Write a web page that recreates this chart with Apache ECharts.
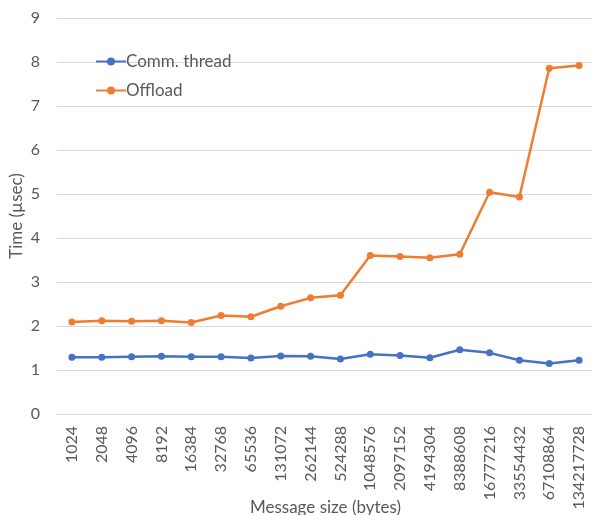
<!DOCTYPE html>
<html>
<head>
<meta charset="utf-8">
<script src="https://cdn.jsdelivr.net/npm/echarts@6/dist/echarts.min.js"></script>
<style>
  html, body { margin: 0; padding: 0; background: #fff; }
  #chart { width: 592px; height: 515px; }
</style>
</head>
<body>
<div id="chart"></div>
<script>
// Message sizes in bytes (2^10 .. 2^27)
const messageSizes = ['1024', '2048', '4096', '8192', '16384', '32768', '65536', '131072',
  '262144', '524288', '1048576', '2097152', '4194304', '8388608', '16777216',
  '33554432', '67108864', '134217728'];

// Latency in microseconds
const commThread = [1.29, 1.29, 1.30, 1.31, 1.30, 1.30, 1.27, 1.32, 1.31,
  1.25, 1.36, 1.33, 1.28, 1.46, 1.39, 1.22, 1.15, 1.22];
const offload = [2.09, 2.12, 2.11, 2.12, 2.08, 2.24, 2.21, 2.45, 2.64,
  2.70, 3.60, 3.58, 3.55, 3.63, 5.04, 4.93, 7.86, 7.92];

const yTicks = [0, 1, 2, 3, 4, 5, 6, 7, 8, 9];

const FONT = 'Lato';
const TEXT = '#595959';

const chart = echarts.init(document.getElementById('chart'));
chart.setOption({
  animation: false,
  textStyle: { fontFamily: FONT },
  grid: { left: 57, right: -2, top: 18, bottom: 101, containLabel: false, outerBoundsMode: 'none' },
  legend: {
    orient: 'vertical',
    left: 90,
    top: 48,
    itemGap: 12,
    itemWidth: 30,
    itemHeight: 10,
    textStyle: { fontFamily: FONT, fontSize: 17, color: TEXT, padding: [0, 0, 0, -5] },
    data: ['Comm. thread', 'Offload']
  },
  xAxis: {
    type: 'category',
    data: messageSizes,
    boundaryGap: true,
    name: 'Message size (bytes)',
    nameLocation: 'middle',
    nameGap: 85,
    nameMoveOverlap: false,
    nameTextStyle: { fontFamily: FONT, fontSize: 17, color: TEXT },
    axisLine: { show: true, lineStyle: { color: '#d9d9d9', width: 1 } },
    axisTick: { show: false },
    axisLabel: { rotate: 90, interval: 0, margin: 12, fontSize: 16, color: TEXT, fontFamily: FONT }
  },
  yAxis: {
    type: 'value',
    min: yTicks[0],
    max: yTicks[yTicks.length - 1],
    interval: 1,
    name: 'Time (µsec)',
    nameLocation: 'middle',
    nameRotate: 90,
    nameGap: 32,
    nameMoveOverlap: false,
    nameTextStyle: { fontFamily: FONT, fontSize: 17, color: TEXT },
    axisLine: { show: false },
    axisTick: { show: false },
    axisLabel: { margin: 17, fontSize: 16, color: TEXT, fontFamily: FONT },
    splitLine: { lineStyle: { color: '#d9d9d9', width: 1 } }
  },
  series: [
    {
      name: 'Comm. thread',
      type: 'line',
      data: commThread,
      symbol: 'circle',
      symbolSize: 7,
      color: '#4472C4',
      lineStyle: { width: 2.5, color: '#4472C4' },
      itemStyle: { color: '#4472C4' }
    },
    {
      name: 'Offload',
      type: 'line',
      data: offload,
      symbol: 'circle',
      symbolSize: 7,
      color: '#ED7D31',
      lineStyle: { width: 2.5, color: '#ED7D31' },
      itemStyle: { color: '#ED7D31' }
    }
  ]
});
</script>
</body>
</html>
